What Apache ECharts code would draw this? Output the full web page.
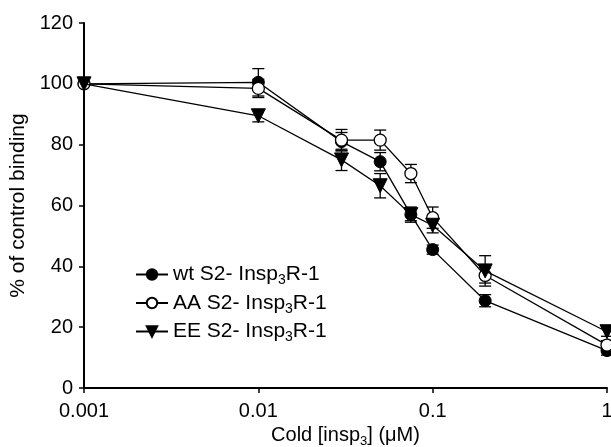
<!DOCTYPE html>
<html>
<head>
<meta charset="utf-8">
<script src="https://cdn.jsdelivr.net/npm/echarts@6/dist/echarts.min.js"></script>
<style>
  html, body { margin: 0; padding: 0; background: #fff; }
  #chart { width: 611px; height: 447px; }
</style>
</head>
<body>
<div id="chart"></div>
<script>
// concentraciones de insp3 frío (uM)
var conc = [0.001, 0.01, 0.03, 0.05, 0.075, 0.1, 0.2, 1];

// % de unión respecto al control, con su error
var wtValues = [100, 100.5, 81, 74.4, 57, 45.5, 28.7, 12.3];
var wtErr = [0, 4.5, 3, 3, 2.5, 1.5, 2, 1.5];
var aaValues = [100, 98.5, 81.5, 81.5, 70.5, 56, 37, 14.1];
var aaErr = [0, 3, 3.5, 3.3, 3, 3.5, 2.5, 1.5];
var eeValues = [100, 89.5, 75, 66.5, 57, 53.5, 38.5, 18.5];
var eeErr = [0, 2, 3.5, 4, 2, 2.5, 5, 1.5];

var seriesNames = ['wt', 'AA', 'EE'];
var yTicks = [0, 20, 40, 60, 80, 100, 120];

var FONT = '"Liberation Sans", Arial, sans-serif';

var chart = echarts.init(document.getElementById('chart'));

// arma pares [x, y]
var pares = (vals) => conc.map((c, i) => [c, vals[i]]);

// barras de error como serie custom
var barrasError = (vals, errs, z) => ({
    type: 'custom',
    silent: true,
    z: z,
    data: conc.map((c, i) => [c, vals[i], errs[i]]),
    renderItem: function (params, api) {
        var x = api.value(0), y = api.value(1), e = api.value(2);
        if (!e) return;
        var top = api.coord([x, y + e]);
        var bot = api.coord([x, y - e]);
        var w = 6;
        var st = { stroke: '#000', lineWidth: 1.3 };
        return {
            type: 'group',
            children: [
                { type: 'line', shape: { x1: top[0], y1: top[1], x2: bot[0], y2: bot[1] }, style: st },
                { type: 'line', shape: { x1: top[0] - w, y1: top[1], x2: top[0] + w, y2: top[1] }, style: st },
                { type: 'line', shape: { x1: bot[0] - w, y1: bot[1], x2: bot[0] + w, y2: bot[1] }, style: st }
            ]
        };
    }
});

var option = {
    animation: false,
    backgroundColor: '#fff',
    textStyle: { fontFamily: FONT, color: '#000' },
    grid: { left: 84, right: 4, top: 23, bottom: 59, containLabel: false, outerBoundsMode: 'none' },
    legend: {
        orient: 'vertical',
        left: 130,
        top: 259,
        itemWidth: 32,
        itemHeight: 13,
        itemGap: 5,
        data: seriesNames,
        formatter: function (name) {
            return '{n|' + name + ' S2- Insp}{s|3}{n|R-1}';
        },
        textStyle: {
            color: '#000',
            fontFamily: FONT,
            rich: {
                n: { fontSize: 21, lineHeight: 26, fontFamily: FONT, color: '#000' },
                s: { fontSize: 14, padding: [12, 0, 0, 0], fontFamily: FONT, color: '#000' }
            }
        }
    },
    xAxis: {
        type: 'log',
        logBase: 10,
        min: 0.001,
        max: 1,
        name: '{n|Cold [insp}{s|3}{n|] (μM)}',
        nameLocation: 'middle',
        nameGap: 20,
        nameTextStyle: {
            rich: {
                n: { fontSize: 20, lineHeight: 26, fontFamily: FONT, color: '#000' },
                s: { fontSize: 13, padding: [12, 0, 0, 0], fontFamily: FONT, color: '#000' }
            }
        },
        axisLine: { lineStyle: { color: '#000', width: 2 } },
        axisTick: { show: true, inside: false, length: 5, lineStyle: { color: '#000', width: 1.5 } },
        minorTick: { show: false },
        splitLine: { show: false },
        axisLabel: {
            color: '#000',
            fontSize: 20,
            fontFamily: FONT,
            margin: 13,
            formatter: function (v) { return String(Number(v.toPrecision(3))); }
        }
    },
    yAxis: {
        type: 'value',
        min: yTicks[0],
        max: yTicks[yTicks.length - 1],
        interval: 20,
        name: '% of control binding',
        nameLocation: 'middle',
        nameGap: 54,
        nameTextStyle: { fontSize: 21, fontFamily: FONT, color: '#000' },
        axisLine: { show: true, lineStyle: { color: '#000', width: 2 } },
        axisTick: { show: true, inside: false, length: 5, lineStyle: { color: '#000', width: 1.5 } },
        splitLine: { show: false },
        axisLabel: { color: '#000', fontSize: 20, fontFamily: FONT, margin: 11 }
    },
    series: [
        barrasError(wtValues, wtErr, 1),
        barrasError(aaValues, aaErr, 1),
        barrasError(eeValues, eeErr, 1),
        {
            name: 'wt',
            type: 'line',
            z: 3,
            data: pares(wtValues),
            symbol: 'circle',
            symbolSize: 12,
            lineStyle: { color: '#000', width: 1.3 },
            itemStyle: { color: '#000', borderColor: '#000', borderWidth: 1 }
        },
        {
            name: 'AA',
            type: 'line',
            z: 4,
            data: pares(aaValues),
            symbol: 'circle',
            symbolSize: 12,
            lineStyle: { color: '#000', width: 1.3 },
            itemStyle: { color: '#fff', borderColor: '#000', borderWidth: 1.3 }
        },
        {
            name: 'EE',
            type: 'line',
            z: 5,
            data: pares(eeValues),
            symbol: 'triangle',
            symbolRotate: 180,
            symbolSize: 14,
            lineStyle: { color: '#000', width: 1.3 },
            itemStyle: { color: '#000', borderColor: '#000', borderWidth: 1 }
        }
    ]
};

chart.setOption(option);
</script>
</body>
</html>
